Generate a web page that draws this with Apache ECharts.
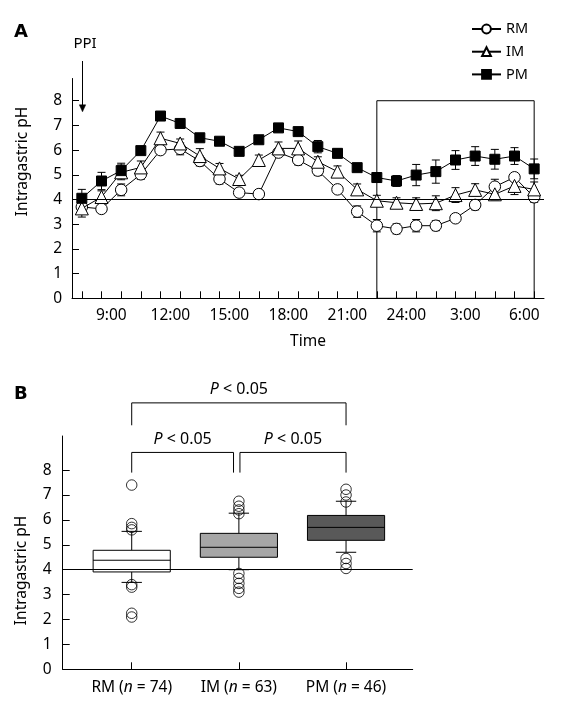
<!DOCTYPE html>
<html><head><meta charset="utf-8">
<script src="https://cdn.jsdelivr.net/npm/echarts@6/dist/echarts.min.js"></script>
<style>html,body{margin:0;padding:0;background:#fff}#c{width:568px;height:717px}</style>
</head><body><div id="c"></div>
<script>
const FONT = '"Noto Sans", sans-serif';

// ---------- Panel A data ----------
const timePositions = [1,2,3,4,5,6,7,8,9,10,11,12,13,14,15,16,17,18,19,20,21,22,23,24];
const timeTickLabels = ['9:00','12:00','15:00','18:00','21:00','24:00','3:00','6:00'];
const timeLabelPositions = [2.5,5.5,8.5,11.5,14.5,17.5,20.5,23.5];
const seriesNames = ['RM','IM','PM'];
const rmMean = [3.70,3.62,4.39,5.02,6.00,6.05,5.56,4.83,4.28,4.22,5.90,5.60,5.17,4.41,3.51,2.94,2.81,2.94,2.94,3.24,3.78,4.52,4.90,4.09];
const imMean = [3.64,4.10,5.10,5.30,6.48,6.27,5.76,5.26,4.83,5.60,6.07,6.07,5.53,5.13,4.41,3.95,3.87,3.82,3.85,4.18,4.39,4.21,4.55,4.41];
const pmMean = [4.05,4.75,5.17,5.98,7.38,7.08,6.50,6.36,5.95,6.42,6.90,6.75,6.14,5.87,5.29,4.89,4.75,4.99,5.13,5.60,5.76,5.63,5.76,5.24];
const rmErr  = [0.30,0.15,0.24,0.20,0.15,0.24,0.20,0.20,0.15,0.10,0.15,0.20,0.20,0.15,0.23,0.25,0.20,0.25,0.20,0.15,0.20,0.30,0.15,0.20];
const imErr  = [0.35,0.25,0.30,0.26,0.25,0.18,0.30,0.20,0.15,0.20,0.26,0.30,0.20,0.23,0.22,0.22,0.20,0.25,0.30,0.30,0.25,0.25,0.35,0.30];
const pmErr  = [0.36,0.35,0.30,0.15,0.12,0.12,0.12,0.12,0.12,0.12,0.12,0.15,0.25,0.18,0.15,0.20,0.22,0.43,0.47,0.38,0.38,0.40,0.34,0.40];
const yTicksA = [0,1,2,3,4,5,6,7,8];
const thresholdPH = 4;
const nightWindow = [16, 24];
const nightTop = 8;
const ppiPosition = 1;

// ---------- Panel B data ----------
const groupPositions = [1,2,3];
const groupNames = ['RM','IM','PM'];
const groupN = [74,63,46];
const boxLow  = [3.49,4.00,4.70];
const boxQ1   = [3.91,4.50,5.18];
const boxMed  = [4.38,4.90,5.70];
const boxQ3   = [4.78,5.46,6.18];
const boxHigh = [5.54,6.27,6.75];
const rmOutliers = [7.40,5.85,5.70,5.60,3.40,3.30,2.25,2.10];
const imOutliers = [6.75,6.55,6.40,6.25,3.85,3.65,3.45,3.25,3.10];
const pmOutliers = [7.23,7.00,6.72,4.45,4.25,4.05];
const yTicksB = [0,1,2,3,4,5,6,7,8];
const sigLabel = 'P < 0.05';

// ---------- styles ----------
const boxFills = ['#ffffff','#a6a6a6','#595959'];

function zip(xs, ys, es){ return xs.map((x,i)=> es ? [x, ys[i], es[i]] : [x, ys[i]]); }

function errRender(params, api){
  const x = api.value(0), y = api.value(1), e = api.value(2);
  const t = api.coord([x, y+e]), b = api.coord([x, y-e]);
  const hw = 4, st = {stroke:'#000', lineWidth:1};
  return {type:'group', children:[
    {type:'line', shape:{x1:t[0],y1:t[1],x2:b[0],y2:b[1]}, style:st},
    {type:'line', shape:{x1:t[0]-hw,y1:t[1],x2:t[0]+hw,y2:t[1]}, style:st},
    {type:'line', shape:{x1:b[0]-hw,y1:b[1],x2:b[0]+hw,y2:b[1]}, style:st}
  ]};
}

function boxRender(params, api){
  const x = api.value(0);
  const pLo = api.coord([x, api.value(1)]), pQ1 = api.coord([x, api.value(2)]),
        pMed = api.coord([x, api.value(3)]), pQ3 = api.coord([x, api.value(4)]),
        pHi = api.coord([x, api.value(5)]);
  const unit = api.size([1,0])[0];
  const bw = unit*0.72, cw = unit*0.19, cx = pQ1[0];
  const st = {stroke:'#000', lineWidth:1};
  return {type:'group', children:[
    {type:'line', shape:{x1:cx,y1:pQ3[1],x2:cx,y2:pHi[1]}, style:st},
    {type:'line', shape:{x1:cx,y1:pQ1[1],x2:cx,y2:pLo[1]}, style:st},
    {type:'line', shape:{x1:cx-cw/2,y1:pHi[1],x2:cx+cw/2,y2:pHi[1]}, style:st},
    {type:'line', shape:{x1:cx-cw/2,y1:pLo[1],x2:cx+cw/2,y2:pLo[1]}, style:st},
    {type:'rect', shape:{x:cx-bw/2,y:pQ3[1],width:bw,height:pQ1[1]-pQ3[1]}, style:{fill:boxFills[params.dataIndex], stroke:'#000', lineWidth:1}},
    {type:'line', shape:{x1:cx-bw/2,y1:pMed[1],x2:cx+bw/2,y2:pMed[1]}, style:st}
  ]};
}

// bracket annotations: [x from, x to, bar level, leg bottom] in panel-B data units
const brackets = [[1,3,10.7,9.8],[1,1.95,8.71,7.9],[2.01,3,8.71,7.9]];
function bracketRender(params, api){
  const x1 = api.value(0), x2 = api.value(1), yb = api.value(2), yl = api.value(3);
  const a = api.coord([x1,yb]), b = api.coord([x2,yb]), al = api.coord([x1,yl]), bl = api.coord([x2,yl]);
  return {type:'group', children:[
    {type:'polyline', shape:{points:[al,a,b,bl]}, style:{stroke:'#000', lineWidth:1, fill:null}},
    {type:'text', x:(a[0]+b[0])/2, y:a[1]-13, style:{
      text:'{i|P}{t| < 0.05}', align:'center', verticalAlign:'middle', fill:'#000',
      rich:{i:{fontFamily:FONT,fontSize:16,fontStyle:'italic',fill:'#000'}, t:{fontFamily:FONT,fontSize:16,fill:'#000'}}
    }}
  ]};
}

const labelMapA = {};
timeLabelPositions.forEach((p,i)=> labelMapA[p] = timeTickLabels[i]);

const axisBase = {
  axisLine:{show:true, onZero:false, lineStyle:{color:'#000', width:1}},
  splitLine:{show:false},
};

const chart = echarts.init(document.getElementById('c'), null, {renderer:'canvas'});
const option = {
  animation:false,
  backgroundColor:'#fff',
  textStyle:{fontFamily:FONT, color:'#000'},
  grid:[
    {left:72, top:78.5, width:472, height:219.8},
    {left:62.7, top:436, width:350, height:233.3}
  ],
  xAxis:[
    Object.assign({}, axisBase, {gridIndex:0, type:'value', min:0.5, max:24.5,
      axisTick:{show:true, inside:true, length:7, customValues:timePositions, lineStyle:{color:'#000'}},
      axisLabel:{show:true, customValues:timeLabelPositions, formatter:v=>labelMapA[v]||'', color:'#000', fontSize:15.5, fontFamily:FONT, margin:9},
      name:'Time', nameLocation:'middle', nameGap:35, nameTextStyle:{fontSize:15.5, fontFamily:FONT, color:'#000'}
    }),
    Object.assign({}, axisBase, {gridIndex:1, type:'value', min:0.356, max:3.622,
      axisTick:{show:true, inside:true, length:7, customValues:groupPositions, lineStyle:{color:'#000'}},
      axisLabel:{show:true, customValues:groupPositions, margin:10,
        formatter:v=>{const i=groupPositions.indexOf(v); return i<0?'':`{t|${groupNames[i]} (}{i|n}{t| = ${groupN[i]})}`;},
        rich:{t:{fontSize:15.5,fontFamily:FONT,color:'#000'}, i:{fontSize:15.5,fontFamily:FONT,fontStyle:'italic',color:'#000'}}}
    })
  ],
  yAxis:[
    Object.assign({}, axisBase, {gridIndex:0, type:'value', min:0, max:8.9,
      axisTick:{show:true, inside:true, length:7, customValues:yTicksA, lineStyle:{color:'#000'}},
      axisLabel:{show:true, customValues:yTicksA, color:'#000', fontSize:15.5, fontFamily:FONT, margin:10}
    }),
    Object.assign({}, axisBase, {gridIndex:1, type:'value', min:0, max:9.37,
      axisTick:{show:true, inside:true, length:7, customValues:yTicksB, lineStyle:{color:'#000'}},
      axisLabel:{show:true, customValues:yTicksB, color:'#000', fontSize:15.5, fontFamily:FONT, margin:11}
    })
  ],
  legend:{
    data:seriesNames, orient:'vertical', left:466, top:16, itemWidth:29, itemHeight:11, itemGap:6.7,
    textStyle:{fontFamily:FONT, fontSize:14.5, color:'#000', lineHeight:16}, selectedMode:false
  },
  series:[
    {type:'custom', xAxisIndex:0, yAxisIndex:0, renderItem:errRender, data:zip(timePositions, rmMean, rmErr), z:1, silent:true},
    {type:'custom', xAxisIndex:0, yAxisIndex:0, renderItem:errRender, data:zip(timePositions, imMean, imErr), z:1, silent:true},
    {type:'custom', xAxisIndex:0, yAxisIndex:0, renderItem:errRender, data:zip(timePositions, pmMean, pmErr), z:1, silent:true,
      markLine:{silent:true, symbol:['none','none'], label:{show:false}, lineStyle:{color:'#000', width:1, type:'solid'}, data:[{yAxis:thresholdPH}]},
      markArea:{silent:true, itemStyle:{color:'rgba(0,0,0,0)', borderColor:'#000', borderWidth:1},
        data:[[{xAxis:nightWindow[0], yAxis:0},{xAxis:nightWindow[1], yAxis:nightTop}]]}
    },
    {name:'RM', type:'line', xAxisIndex:0, yAxisIndex:0, data:zip(timePositions, rmMean), symbol:'circle', symbolSize:11.5,
      itemStyle:{color:'#fff', borderColor:'#000', borderWidth:1}, lineStyle:{color:'#000', width:1}, z:2},
    {name:'IM', type:'line', xAxisIndex:0, yAxisIndex:0, data:zip(timePositions, imMean), symbol:'triangle', symbolSize:13,
      itemStyle:{color:'#fff', borderColor:'#000', borderWidth:1}, lineStyle:{color:'#000', width:1}, z:3},
    {name:'PM', type:'line', xAxisIndex:0, yAxisIndex:0, data:zip(timePositions, pmMean), symbol:'rect', symbolSize:10,
      itemStyle:{color:'#000', borderColor:'#000', borderWidth:1}, lineStyle:{color:'#000', width:1}, z:4},

    {type:'custom', xAxisIndex:1, yAxisIndex:1, renderItem:boxRender, silent:true, z:2,
      data:groupPositions.map((x,i)=>[x, boxLow[i], boxQ1[i], boxMed[i], boxQ3[i], boxHigh[i]]),
      markLine:{silent:true, symbol:['none','none'], label:{show:false}, lineStyle:{color:'#000', width:1, type:'solid'}, data:[{yAxis:thresholdPH}]}
    },
    {type:'scatter', xAxisIndex:1, yAxisIndex:1, silent:true, z:3, symbol:'circle', symbolSize:10.5,
      itemStyle:{color:'rgba(0,0,0,0)', borderColor:'#000', borderWidth:1},
      data:[].concat(rmOutliers.map(v=>[groupPositions[0],v]), imOutliers.map(v=>[groupPositions[1],v]), pmOutliers.map(v=>[groupPositions[2],v]))
    },
    {type:'custom', xAxisIndex:1, yAxisIndex:1, renderItem:bracketRender, clip:false, silent:true, z:3, data:brackets}
  ],
  graphic:[
    {type:'text', left:14, top:23, style:{text:'A', fontFamily:'"DejaVu Sans", sans-serif', fontWeight:'bold', fontSize:18, fill:'#000'}},
    {type:'text', left:14, top:385, style:{text:'B', fontFamily:'"DejaVu Sans", sans-serif', fontWeight:'bold', fontSize:18, fill:'#000'}},
    {type:'text', x:22.5, y:161.5, rotation:Math.PI/2, style:{text:'Intragastric pH', fontFamily:FONT, fontSize:15.5, fill:'#000', align:'center', verticalAlign:'middle'}},
    {type:'text', x:21.7, y:570.5, rotation:Math.PI/2, style:{text:'Intragastric pH', fontFamily:FONT, fontSize:15.5, fill:'#000', align:'center', verticalAlign:'middle'}}
  ]
};
chart.setOption(option);

// PPI arrow annotation, anchored to the first time point
const tip = chart.convertToPixel({xAxisIndex:0, yAxisIndex:0}, [ppiPosition, 7.55]);
const ax = Math.round(tip[0]) + 0.5;
chart.setOption({graphic:[
  option.graphic[0], option.graphic[1], option.graphic[2], option.graphic[3],
  {type:'line', shape:{x1:ax, y1:61, x2:ax, y2:tip[1]-5}, style:{stroke:'#000', lineWidth:1}},
  {type:'polygon', shape:{points:[[ax-3.2, tip[1]-7],[ax+3.2, tip[1]-7],[ax, tip[1]]]}, style:{fill:'#000', stroke:'#000', lineWidth:0.5}},
  {type:'text', x:ax+2.5, y:44, style:{text:'PPI', fontFamily:FONT, fontSize:15, fill:'#000', align:'center', verticalAlign:'middle'}}
]});
</script></body></html>
